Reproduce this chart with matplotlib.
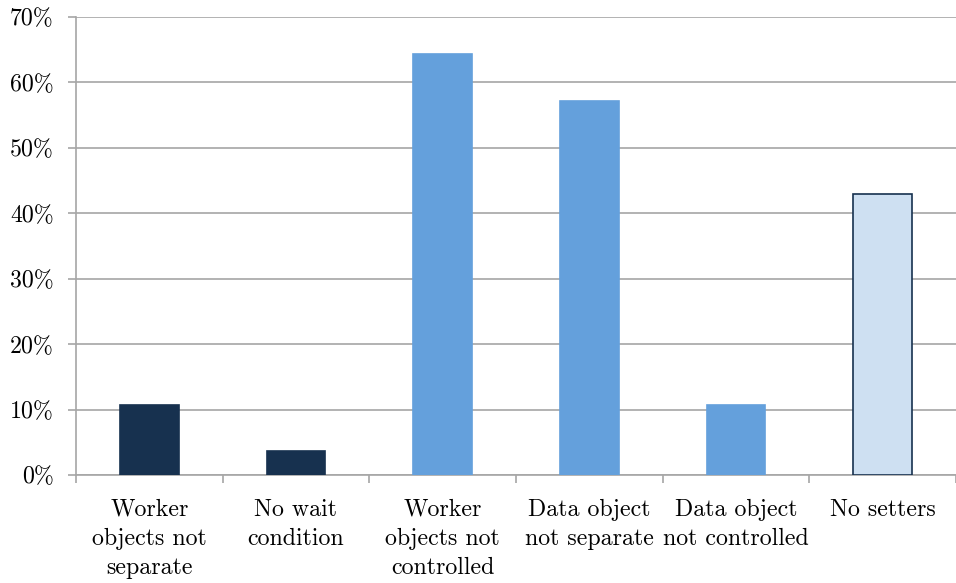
import matplotlib
matplotlib.use("Agg")
import matplotlib.pyplot as plt
from matplotlib.ticker import FuncFormatter

categories = ["Worker\nobjects not\nseparate", "No wait\ncondition", "Worker\nobjects not\ncontrolled",
              "Data object\nnot separate", "Data object\nnot controlled", "No setters"]
values = [10.7, 3.6, 64.3, 57.1, 10.7, 42.9]
colors = ["#17314F", "#17314F", "#64A0DC", "#64A0DC", "#64A0DC", "#CEE0F2"]
edges = ["#17314F", "#17314F", "#64A0DC", "#64A0DC", "#64A0DC", "#17314F"]

plt.rcParams['font.family'] = ['cmr10', 'DejaVu Serif']
plt.rcParams['axes.formatter.use_mathtext'] = True

fig = plt.figure(figsize=(9.56, 5.83), dpi=100)
ax = fig.add_axes([76/956, 108/583, 1 - 76/956, 458/583])

x = list(range(len(values)))
ax.bar(x, values, width=0.4, color=colors, edgecolor=edges, linewidth=1.2, zorder=3)

ax.set_ylim(0, 70)
ax.set_xlim(-0.5, 5.5 - 8/148)
ax.set_yticks(range(0, 71, 10))
ax.yaxis.set_major_formatter(FuncFormatter(lambda v, p: "%d%%" % v))
ax.grid(axis='y', color='#A6A6A6', linewidth=1.2, zorder=0)

ax.set_xticks([i + 0.5 for i in range(-1, 6)])
ax.set_xticklabels([])
ax.set_xticks(x, minor=True)
ax.set_xticklabels(categories, minor=True, fontsize=17.2, linespacing=1.42, va='top')
ax.tick_params(axis='x', which='minor', length=0, pad=17)
ax.tick_params(axis='x', which='major', length=6, color='#A6A6A6', width=1.2)
ax.tick_params(axis='y', length=6, color='#A6A6A6', width=1.2, labelsize=17.2, pad=10)

for s in ['top', 'right']:
    ax.spines[s].set_visible(False)
for s in ['left', 'bottom']:
    ax.spines[s].set_color('#A6A6A6')
    ax.spines[s].set_linewidth(1.2)

fig.savefig("out.png", dpi=100)
